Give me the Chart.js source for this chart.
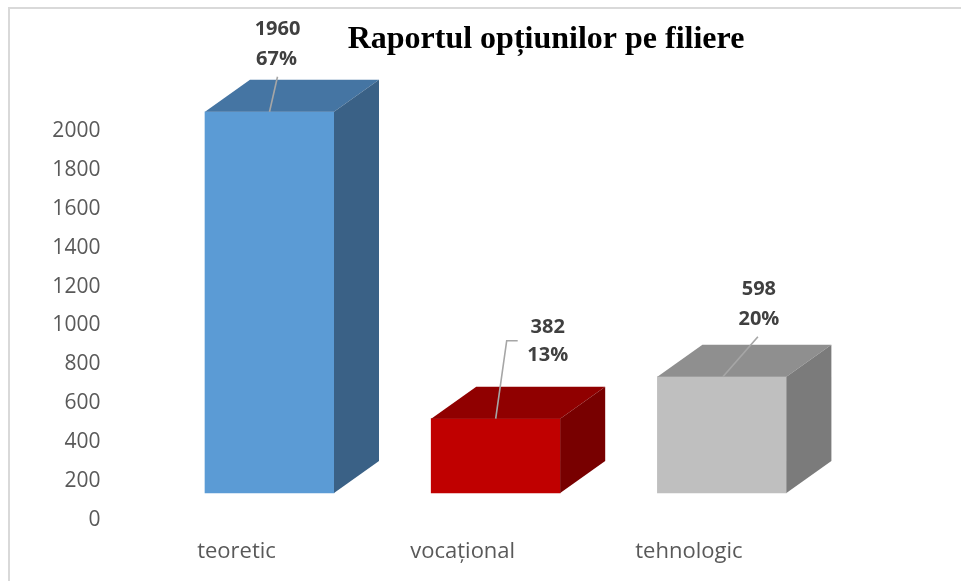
<!DOCTYPE html>
<html>
<head>
<meta charset="utf-8">
<script src="https://cdn.jsdelivr.net/npm/chart.js@4"></script>
<style>
  html, body { margin: 0; padding: 0; background: #fff; }
  #wrap { width: 961px; height: 581px; }
</style>
</head>
<body>
<div id="wrap"><canvas id="myChart" width="961" height="581"></canvas></div>
<script>
const categories = ['teoretic', 'vocațional', 'tehnologic'];
const students = [1960, 382, 598];
const yTicks = [0, 200, 400, 600, 800, 1000, 1200, 1400, 1600, 1800, 2000];

// styles
const frontColors = ['#5b9bd5', '#c00000', '#bfbfbf'];
const topColors = ['#4575a3', '#900000', '#8f8f8f'];
const sideColors = ['#3a6186', '#780000', '#7b7b7b'];
const depth = { dx: 45, dy: -32 };
// where each data label sits, relative to the front top centre of its bar
const labelPlace = [
    { value: [8, -82], pct: [7, -52], leader: [[8, -35], [0, 0]] },
    { value: [52, -91], pct: [52, -63], leader: [[22, -78], [11, -78], [0, 0]] },
    { value: [37, -87], pct: [37, -57], leader: [[36, -40], [1, 0]] },
];

const total = students.reduce((a, b) => a + b, 0);

const frame = {
    id: 'frame',
    beforeDraw(chart) {
        const ctx = chart.ctx;
        ctx.save();
        ctx.strokeStyle = '#d9d9d9';
        ctx.lineWidth = 2;
        ctx.beginPath();
        ctx.moveTo(9, chart.height);
        ctx.lineTo(9, 8);
        ctx.lineTo(chart.width, 8);
        ctx.stroke();
        ctx.fillStyle = '#000';
        ctx.font = 'bold 32px "Liberation Serif", "Times New Roman", serif';
        ctx.textAlign = 'center';
        ctx.textBaseline = 'middle';
        ctx.fillText('Raportul opțiunilor pe filiere', 546, 40);
        ctx.restore();
    }
};

const box3d = {
    id: 'box3d',
    afterDatasetsDraw(chart) {
        const ctx = chart.ctx;
        const meta = chart.getDatasetMeta(0);
        ctx.save();
        meta.data.forEach((bar, i) => {
            const l = bar.x - bar.width / 2, r = bar.x + bar.width / 2;
            const t = bar.y, b = bar.base;
            // top face
            ctx.fillStyle = topColors[i];
            ctx.beginPath();
            ctx.moveTo(l, t);
            ctx.lineTo(l + depth.dx, t + depth.dy);
            ctx.lineTo(r + depth.dx, t + depth.dy);
            ctx.lineTo(r, t);
            ctx.closePath();
            ctx.fill();
            // side face
            ctx.fillStyle = sideColors[i];
            ctx.beginPath();
            ctx.moveTo(r, t);
            ctx.lineTo(r + depth.dx, t + depth.dy);
            ctx.lineTo(r + depth.dx, b + depth.dy);
            ctx.lineTo(r, b);
            ctx.closePath();
            ctx.fill();
        });

        // data labels
        ctx.textAlign = 'center';
        ctx.textBaseline = 'middle';
        ctx.font = 'bold 20px "Open Sans", sans-serif';
        meta.data.forEach((bar, i) => {
            const p = labelPlace[i];
            ctx.strokeStyle = '#a6a6a6';
            ctx.lineWidth = 1.6;
            ctx.beginPath();
            p.leader.forEach((pt, k) => {
                const x = bar.x + pt[0], y = bar.y + pt[1];
                if (k === 0) ctx.moveTo(x, y); else ctx.lineTo(x, y);
            });
            ctx.stroke();
            ctx.fillStyle = '#404040';
            ctx.fillText(String(students[i]), bar.x + p.value[0], bar.y + p.value[1]);
            const pct = Math.round(students[i] / total * 100) + '%';
            ctx.fillText(pct, bar.x + p.pct[0], bar.y + p.pct[1]);
        });
        ctx.restore();
    }
};

const config = {
    type: 'bar',
    data: {
        labels: categories,
        datasets: [{
            label: 'Elevi',
            data: students,
            backgroundColor: frontColors,
            borderWidth: 0,
            barThickness: 129,
            yAxisID: 'y2',
            clip: false,
        }]
    },
    options: {
        responsive: false,
        animation: false,
        layout: { padding: { left: 52, right: 126, top: 131, bottom: 0 } },
        scales: {
            x: {
                grid: { display: false, drawTicks: false },
                border: { display: false },
                ticks: {
                    color: '#595959',
                    font: { family: '"Open Sans", sans-serif', size: 22 },
                    labelOffset: -33,
                    padding: 19,
                },
                afterFit: s => { s.height = 61; },
            },
            y: {
                position: 'left',
                min: 0,
                max: 2000,
                afterBuildTicks: s => { s.ticks = yTicks.map(v => ({ value: v })); },
                grid: { display: false, drawTicks: false },
                border: { display: false },
                ticks: {
                    color: '#595959',
                    font: { family: '"Open Sans", sans-serif', size: 21 },
                    padding: 56,
                    callback: v => String(v),
                },
                afterFit: s => {
                    s.width = 104.4;
                    s.paddingTop = 0;
                    s.paddingBottom = 0;
                },
            },
            y2: {
                display: false,
                min: -138.8,
                max: 1861.2,
            }
        },
        plugins: {
            legend: { display: false },
            title: { display: false },
            tooltip: { enabled: false },
        },
    },
    plugins: [frame, box3d],
};

new Chart(document.getElementById('myChart').getContext('2d'), config);
</script>
</body>
</html>
